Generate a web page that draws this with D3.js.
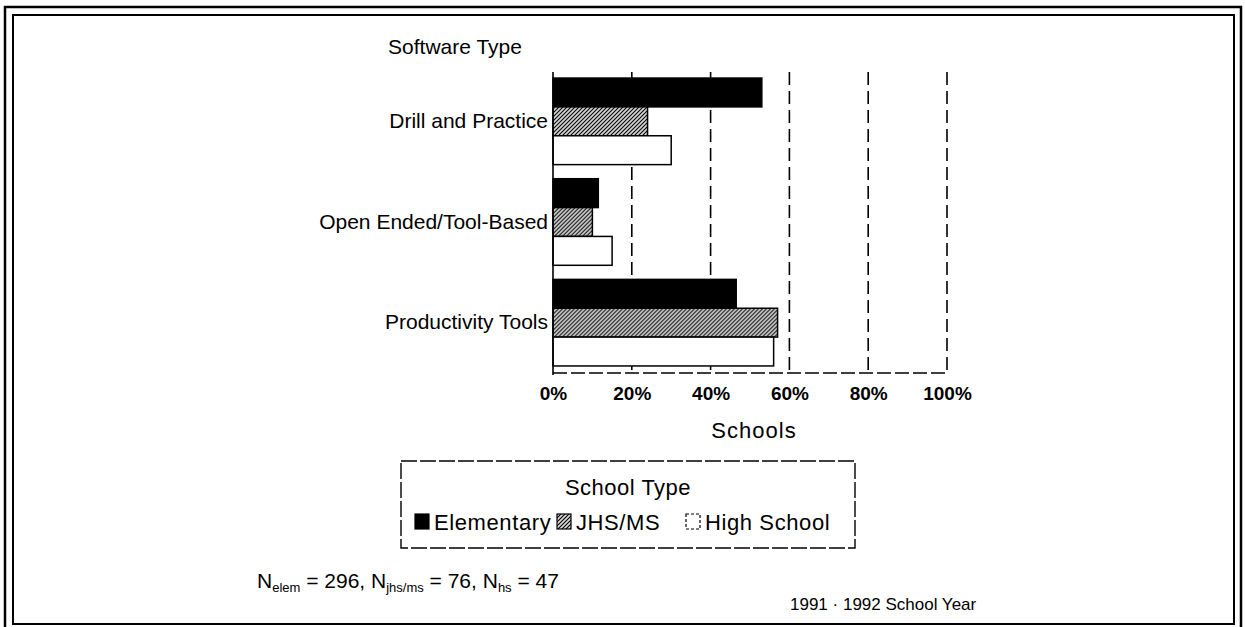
<!DOCTYPE html>
<html>
<head>
<meta charset="utf-8">
<script src="https://cdn.jsdelivr.net/npm/d3@7/dist/d3.min.js"></script>
<style>
  html, body { margin: 0; padding: 0; background: #fff; }
  svg { display: block; font-family: "Liberation Sans", Arial, Helvetica, sans-serif; }
</style>
</head>
<body>
<svg id="chart" width="1245" height="627"></svg>
<script>
// ---- data ----
const categories = ["Drill and Practice", "Open Ended/Tool-Based", "Productivity Tools"];
const seriesNames = ["Elementary", "JHS/MS", "High School"];
const elementary = [53, 11.5, 46.5];
const jhsms = [24, 10, 57];
const highSchool = [30, 15, 56];
const tickValues = [0, 20, 40, 60, 80, 100];
const tickLabels = ["0%", "20%", "40%", "60%", "80%", "100%"];

const seriesValues = [elementary, jhsms, highSchool];
const rows = categories.map((c, i) => ({
  category: c,
  values: seriesNames.map((s, j) => ({ series: s, value: seriesValues[j][i] }))
}));

const svg = d3.select("#chart");

// pattern for hatch
const defs = svg.append("defs");
const pat = defs.append("pattern")
  .attr("id", "hatch").attr("patternUnits", "userSpaceOnUse")
  .attr("width", 4).attr("height", 4);
pat.append("rect").attr("width", 4).attr("height", 4).attr("fill", "#d8d8d8");
pat.append("path").attr("d", "M-1,1 l2,-2 M0,4 l4,-4 M3,5 l2,-2")
  .attr("stroke", "#000").attr("stroke-width", 1.1);

const fills = { "Elementary": "#000", "JHS/MS": "url(#hatch)", "High School": "#fff" };

// outer double frame
svg.append("rect").attr("x", 5).attr("y", 7).attr("width", 1236).attr("height", 625)
  .attr("fill", "none").attr("stroke", "#000").attr("stroke-width", 2.5);
svg.append("rect").attr("x", 13).attr("y", 15).attr("width", 1221).attr("height", 609)
  .attr("fill", "none").attr("stroke", "#000").attr("stroke-width", 2);

// scales
const x = d3.scaleLinear().domain([0, 100]).range([553, 947]);
const y0 = d3.scaleBand().domain(categories).range([71, 373]).paddingInner(0.14).paddingOuter(0.07);
const y1 = d3.scaleBand().domain(seriesNames).range([0, y0.bandwidth()]).padding(0);

const plotTop = 72, plotBottom = 373;

// gridlines
svg.append("g").selectAll("line").data(tickValues.filter(d => d > 0)).join("line")
  .attr("x1", d => x(d)).attr("x2", d => x(d))
  .attr("y1", plotTop).attr("y2", plotBottom)
  .attr("stroke", "#000").attr("stroke-width", 1.6)
  .attr("stroke-dasharray", "13,6");

// bars
const g = svg.append("g");
const groups = g.selectAll("g").data(rows).join("g")
  .attr("transform", d => `translate(0,${y0(d.category)})`);
groups.selectAll("rect").data(d => d.values).join("rect")
  .attr("x", x(0))
  .attr("y", d => y1(d.series))
  .attr("width", d => x(d.value) - x(0))
  .attr("height", y1.bandwidth())
  .attr("fill", d => fills[d.series])
  .attr("stroke", "#000")
  .attr("stroke-width", 1.5);

// left axis line and bottom axis
svg.append("line").attr("x1", x(0)).attr("x2", x(0)).attr("y1", plotTop).attr("y2", plotBottom + 2)
  .attr("stroke", "#000").attr("stroke-width", 1.6);
svg.append("line").attr("x1", x(0)).attr("x2", x(100)).attr("y1", plotBottom).attr("y2", plotBottom)
  .attr("stroke", "#000").attr("stroke-width", 1.3).attr("stroke-dasharray", "14,4");

// x axis labels via d3 axis
const xAxis = d3.axisBottom(x).tickValues(tickValues)
  .tickFormat((d, i) => tickLabels[i]).tickSize(0).tickPadding(0);
const ax = svg.append("g").attr("transform", `translate(0,${plotBottom + 13})`).call(xAxis);
ax.select(".domain").remove();
ax.selectAll("text").attr("font-size", 19).attr("font-weight", "bold")
  .attr("fill", "#000").attr("font-family", "Liberation Sans, Arial, sans-serif");

// y axis labels
const yAxis = d3.axisLeft(y0).tickSize(0).tickPadding(5);
const ay = svg.append("g").attr("transform", `translate(${x(0)},0)`).call(yAxis);
ay.select(".domain").remove();
ay.selectAll("text").attr("font-size", 21).attr("fill", "#000")
  .attr("font-family", "Liberation Sans, Arial, sans-serif");

// titles
svg.append("text").attr("x", 455).attr("y", 54).attr("text-anchor", "middle")
  .attr("font-size", 21).text("Software Type");
svg.append("text").attr("x", 754).attr("y", 438).attr("text-anchor", "middle")
  .attr("font-size", 22).attr("letter-spacing", 1).text("Schools");

// legend
const lg = svg.append("g");
lg.append("rect").attr("x", 401).attr("y", 461).attr("width", 454).attr("height", 87)
  .attr("fill", "none").attr("stroke", "#000").attr("stroke-width", 1.4)
  .attr("stroke-dasharray", "16,3");
lg.append("text").attr("x", 628).attr("y", 495).attr("text-anchor", "middle")
  .attr("font-size", 22).attr("letter-spacing", 0.5).text("School Type");
const legX = [415, 557, 686];
const items = lg.selectAll("g.item").data(seriesNames).join("g").attr("class", "item")
  .attr("transform", (d, i) => `translate(${legX[i]},514)`);
items.append("rect").attr("width", 14).attr("height", 15)
  .attr("fill", d => fills[d]).attr("stroke", "#000").attr("stroke-width", 1.2)
  .attr("stroke-dasharray", d => d === "High School" ? "3,2" : null);
items.append("text").attr("x", 19).attr("y", 16).attr("font-size", 22)
  .attr("letter-spacing", 0.6).text(d => d);

// footnote
const fn = svg.append("text").attr("x", 257).attr("y", 588).attr("font-size", 21);
const parts = [["N", null], ["elem", "sub"], [" = 296, N", null], ["jhs/ms", "sub"], [" = 76, N", null], ["hs", "sub"], [" = 47", null]];
parts.forEach(([t, s]) => {
  const ts = fn.append("tspan").text(t);
  if (s) ts.attr("font-size", 13).attr("dy", 4);
  else if (t !== "N") ts.attr("dy", -4);
});
svg.append("text").attr("x", 790).attr("y", 610).attr("font-size", 17).text("1991 · 1992 School Year");
</script>
</body>
</html>
